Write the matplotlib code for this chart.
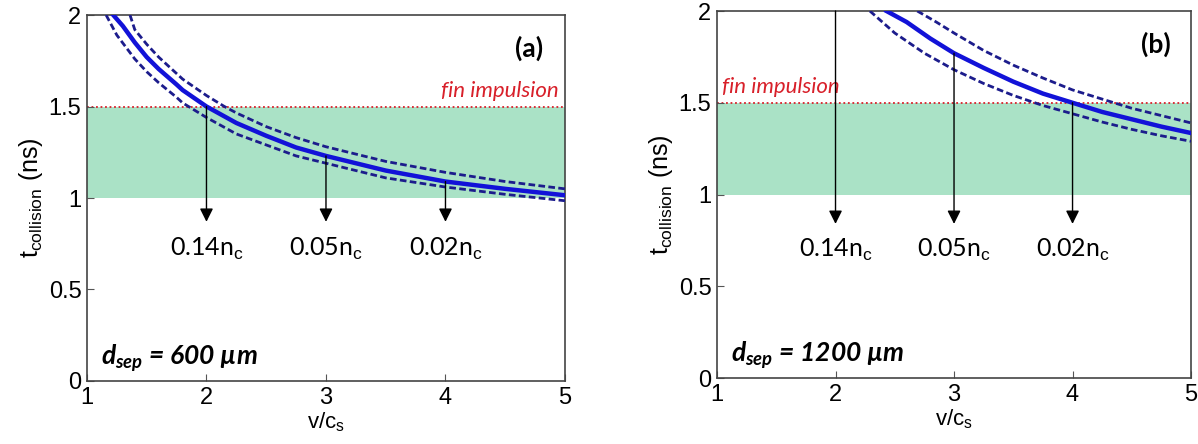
import numpy as np
import matplotlib
matplotlib.use("Agg")
import matplotlib.pyplot as plt

plt.rcParams["font.family"] = ["Liberation Sans", "DejaVu Sans"]
plt.rcParams["mathtext.fontset"] = "custom"
plt.rcParams["mathtext.rm"] = "Liberation Sans"
plt.rcParams["mathtext.it"] = "Liberation Sans:italic"
plt.rcParams["mathtext.bfit"] = "Lato:italic:bold"

# panel (a): d_sep = 600 um
a_v_mid = [1.22, 1.3, 1.4, 1.5, 1.6, 1.75, 1.8, 2.0, 2.25, 2.5, 2.75, 3.0, 3.5, 4.0, 4.5, 5.0]
a_t_mid = [2.0, 1.94, 1.85, 1.77, 1.705, 1.62, 1.59, 1.50, 1.41, 1.34, 1.276, 1.23, 1.15, 1.09, 1.05, 1.015]
a_v_up = [1.36, 1.4, 1.5, 1.6, 1.75, 1.8, 2.0, 2.15, 2.25, 2.5, 2.75, 3.0, 3.5, 4.0, 4.5, 5.0]
a_t_up = [2.0, 1.92, 1.84, 1.77, 1.68, 1.65, 1.56, 1.50, 1.465, 1.39, 1.33, 1.28, 1.20, 1.14, 1.09, 1.05]
a_v_lo = [1.16, 1.25, 1.4, 1.5, 1.6, 1.75, 1.8, 2.0, 2.25, 2.5, 2.75, 3.0, 3.5, 4.0, 4.5, 5.0]
a_t_lo = [2.0, 1.89, 1.76, 1.69, 1.63, 1.55, 1.52, 1.44, 1.35, 1.29, 1.23, 1.19, 1.11, 1.06, 1.02, 0.985]

# panel (b): d_sep = 1200 um
b_v_mid = [2.43, 2.6, 2.8, 3.0, 3.25, 3.5, 3.75, 4.0, 4.25, 4.5, 4.75, 5.0]
b_t_mid = [2.0, 1.94, 1.85, 1.77, 1.69, 1.615, 1.55, 1.50, 1.45, 1.41, 1.37, 1.335]
b_v_up = [2.69, 2.85, 3.0, 3.25, 3.5, 3.75, 4.0, 4.25, 4.5, 4.75, 5.0]
b_t_up = [2.0, 1.94, 1.88, 1.785, 1.705, 1.635, 1.57, 1.52, 1.47, 1.43, 1.39]
b_v_lo = [2.29, 2.5, 2.75, 3.0, 3.25, 3.5, 3.75, 4.0, 4.25, 4.5, 4.75, 5.0]
b_t_lo = [2.0, 1.88, 1.77, 1.68, 1.605, 1.54, 1.485, 1.44, 1.395, 1.355, 1.32, 1.29]

densities = ["0.14", "0.05", "0.02"]
arrow_v = [2, 3, 4]
a_arrow_start = [1.50, 1.23, 1.09]
b_arrow_start = [2.0, 1.77, 1.50]

pulse_end = 1.5
band_low = 1.0

fig = plt.figure(figsize=(11.98, 4.44), dpi=100)
ax1 = fig.add_axes([0.0726, 0.1419, 0.399, 0.8243])
ax2 = fig.add_axes([0.5985, 0.1486, 0.3957, 0.8266])

panels = [
    (ax1, a_v_mid, a_t_mid, a_v_up, a_t_up, a_v_lo, a_t_lo, a_arrow_start,
     0.87, 0.72, "(a)", "600"),
    (ax2, b_v_mid, b_t_mid, b_v_up, b_t_up, b_v_lo, b_t_lo, b_arrow_start,
     0.84, 0.70, "(b)", "1200"),
]

for (ax, vm, tm, vu, tu, vl, tl, starts, tip, lab_y, tag, dsep) in panels:
    ax.axhspan(band_low, pulse_end, color="#aae2c6", lw=0, zorder=0)
    ax.axhline(pulse_end, color="#d8202a", ls=(0, (1, 1.5)), lw=1.3, zorder=1)
    ax.plot(vu, tu, color="#1c1c8c", ls=(0, (2.4, 1.2)), lw=2.0, zorder=3)
    ax.plot(vl, tl, color="#1c1c8c", ls=(0, (2.4, 1.2)), lw=2.0, zorder=3)
    ax.plot(vm, tm, color="#1212d8", lw=3.2, zorder=4)

    for v, s, d in zip(arrow_v, starts, densities):
        ax.annotate("", xy=(v, tip), xytext=(v, s),
                    arrowprops=dict(arrowstyle="-|>", color="black", lw=1.0,
                                    mutation_scale=20, shrinkA=0, shrinkB=0),
                    zorder=5)
        ax.text(v, lab_y, d + r"n$_\mathrm{c}$", ha="center", va="center",
                fontsize=18, family=["Lato", "DejaVu Sans"])

    ax.text(0.925, 0.91, tag, transform=ax.transAxes, ha="center", va="center",
            fontsize=19, fontweight="bold", family=["Lato", "DejaVu Sans"])
    ax.text(1.12, 0.125, r"$\mathbfit{d_{sep}}$" + " = " + dsep + " µm",
            ha="left", va="center", fontsize=19, fontweight="bold",
            fontstyle="italic", family=["Lato", "DejaVu Sans"])

    ax.set_xlim(1, 5)
    ax.set_ylim(0, 2)
    ax.set_xticks([1, 2, 3, 4, 5])
    ax.set_yticks([0, 0.5, 1, 1.5, 2])
    ax.set_yticklabels(["0", "0.5", "1", "1.5", "2"])
    ax.tick_params(direction="in", length=5, labelsize=17, color="#555555")
    ax.tick_params(axis="x", pad=4)
    ax.tick_params(axis="y", pad=4)
    for sp in ax.spines.values():
        sp.set_color("#444444")
        sp.set_linewidth(1.2)
    ax.set_xlabel(r"v/c$_\mathrm{s}$", fontsize=16, labelpad=1)
    ax.set_ylabel(r"t$_\mathrm{collision}$ (ns)", fontsize=18, labelpad=3)

ax1.text(4.95, 1.53, "fin impulsion", ha="right", va="bottom", color="#d8202a",
         fontsize=16, fontstyle="italic", family=["Lato", "DejaVu Sans"])
ax2.text(1.04, 1.53, "fin impulsion", ha="left", va="bottom", color="#d8202a",
         fontsize=16, fontstyle="italic", family=["Lato", "DejaVu Sans"])

fig.savefig("out.png", dpi=100)
